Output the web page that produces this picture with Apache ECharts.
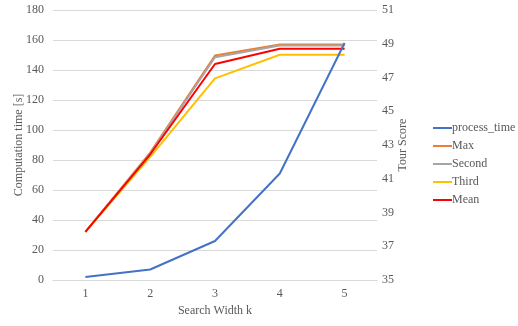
<!DOCTYPE html>
<html><head><meta charset="utf-8">
<script src="https://cdn.jsdelivr.net/npm/echarts@6/dist/echarts.min.js"></script>
<style>html,body{margin:0;padding:0;background:#fff}#c{width:518px;height:326px}</style>
</head><body><div id="c"></div>
<script>
var categories = ['1','2','3','4','5'];
var processTime = [2, 7, 26, 71, 158];
var maxScore = [37.85, 42.55, 48.3, 48.95, 48.95];
var secondScore = [37.85, 42.5, 48.2, 48.9, 48.9];
var thirdScore = [37.85, 42.3, 46.95, 48.35, 48.35];
var meanScore = [37.85, 42.45, 47.8, 48.7, 48.7];

var font = 'Liberation Serif';
var txt = '#595959';
var fs = 12;
function line(name, data, color, yIdx, z) {
  return {name: name, type: 'line', data: data, yAxisIndex: yIdx, symbol: 'none',
    lineStyle: {color: color, width: 2}, itemStyle: {color: color}, z: z, animation: false};
}
var chart = echarts.init(document.getElementById('c'));
chart.setOption({
  animation: false,
  textStyle: {fontFamily: font},
  grid: {left: 53, right: 141, top: 10, bottom: 46, outerBoundsMode: 'none', containLabel: false},
  legend: {orient: 'vertical', left: 428, top: 117, itemGap: 6, itemWidth: 19, itemHeight: 2,
    icon: 'rect', textStyle: {fontFamily: font, fontSize: fs, color: txt, padding: [0,0,0,-5]},
    data: ['process_time','Max','Second','Third','Mean']},
  xAxis: {type: 'category', data: categories, boundaryGap: true,
    name: 'Search Width k', nameLocation: 'middle', nameGap: 25, nameMoveOverlap: false,
    nameTextStyle: {fontFamily: font, fontSize: fs, color: txt},
    axisLine: {lineStyle: {color: '#d9d9d9'}}, axisTick: {show: false},
    axisLabel: {fontFamily: font, fontSize: fs, color: txt, margin: 8}},
  yAxis: [
    {type: 'value', min: 0, max: 180, interval: 20,
     name: 'Computation time [s]', nameLocation: 'middle', nameGap: 28, nameMoveOverlap: false,
     nameTextStyle: {fontFamily: font, fontSize: fs, color: txt},
     axisLine: {show: false}, axisTick: {show: false},
     axisLabel: {fontFamily: font, fontSize: fs, color: txt, margin: 9},
     splitLine: {lineStyle: {color: '#d9d9d9'}}},
    {type: 'value', min: 35, max: 51, interval: 2, position: 'right',
     name: 'Tour Score', nameLocation: 'middle', nameGap: 20, nameMoveOverlap: false,
     nameTextStyle: {fontFamily: font, fontSize: fs, color: txt},
     axisLine: {show: false}, axisTick: {show: false}, splitLine: {show: false},
     axisLabel: {fontFamily: font, fontSize: fs, color: txt, margin: 5}}
  ],
  series: [
    line('process_time', processTime, '#4472C4', 0, 6),
    line('Max', maxScore, '#ED7D31', 1, 2),
    line('Second', secondScore, '#A5A5A5', 1, 3),
    line('Third', thirdScore, '#FFC000', 1, 4),
    line('Mean', meanScore, '#FF0000', 1, 5)
  ]
});
</script></body></html>
